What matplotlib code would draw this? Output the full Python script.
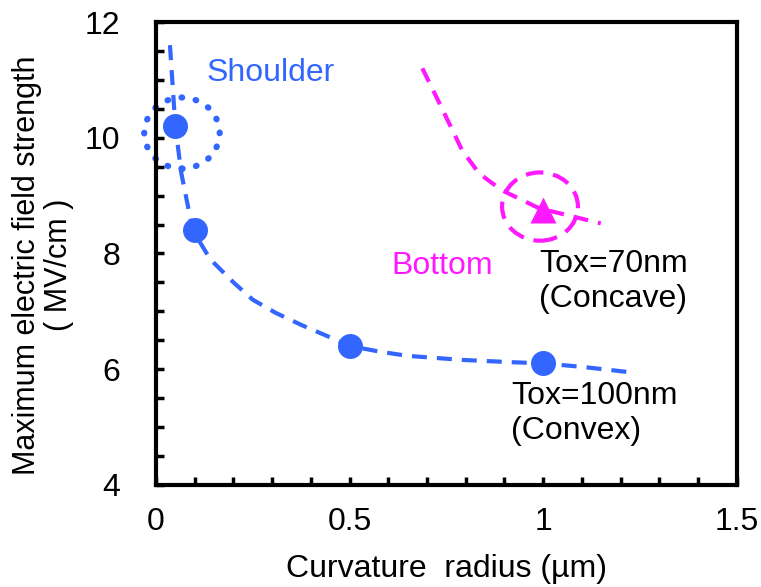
import matplotlib
matplotlib.use('Agg')
import matplotlib.pyplot as plt
from matplotlib.patches import Ellipse
from matplotlib.ticker import MultipleLocator

plt.rcParams['font.family'] = ['Liberation Sans', 'DejaVu Sans']

# measured points
convex_r = [0.05, 0.1, 0.5, 1.0]
convex_e = [10.2, 8.4, 6.4, 6.1]
concave_r = [1.0]
concave_e = [8.75]

# hand-drawn guide curves
convex_fit_r = [0.036, 0.05, 0.065, 0.08, 0.095, 0.14, 0.2, 0.25, 0.31, 0.38,
                0.45, 0.5, 0.58, 0.65, 0.79, 0.92, 1.0, 1.1, 1.22]
convex_fit_e = [11.6, 10.2, 9.4, 8.9, 8.4, 7.9, 7.5, 7.2, 6.97, 6.75,
                6.55, 6.4, 6.3, 6.23, 6.16, 6.12, 6.1, 6.04, 5.95]
concave_fit_r = [0.688, 0.732, 0.791, 0.835, 0.894, 0.99, 1.149]
concave_fit_e = [11.2, 10.6, 9.78, 9.38, 9.09, 8.78, 8.52]

blue = '#3366ff'
pink = '#ff19ff'
fs = 23

fig = plt.figure(figsize=(7.61, 5.87), dpi=100)
ax = fig.add_axes([0.205, 0.174, 0.763, 0.7885])

ax.plot(convex_fit_r, convex_fit_e, color=blue, lw=3, dashes=(3.6, 2.4))
ax.plot(convex_r, convex_e, 'o', color=blue, ms=18, mec='none')
ax.plot(concave_fit_r, concave_fit_e, color=pink, lw=3, dashes=(3.6, 2.4))
ax.plot(concave_r, concave_e, '^', color=pink, ms=19, mec='none')

# circles marking the shoulder and bottom points
ax.add_patch(Ellipse((0.067, 10.08), 0.195, 1.23, fill=False, ec=blue,
                     lw=4.5, linestyle=(0, (0.1, 2.2)), capstyle='round',
                     clip_on=False))
ax.add_patch(Ellipse((0.992, 8.81), 0.196, 1.18, fill=False, ec=pink,
                     lw=3, linestyle=(0, (4.2, 2.4))))

ax.text(0.131, 11.12, 'Shoulder', color=blue, fontsize=fs, va='center')
ax.text(0.608, 7.79, 'Bottom', color=pink, fontsize=fs, va='center')
ax.text(0.99, 7.51, 'Tox=70nm\n(Concave)', fontsize=fs, va='center',
        linespacing=1.2)
ax.text(0.918, 5.23, 'Tox=100nm\n(Convex)', fontsize=fs, va='center',
        linespacing=1.2)

ax.set_xlim(0, 1.5)
ax.set_ylim(4, 12)
ax.set_xticks([0, 0.5, 1, 1.5])
ax.set_xticklabels(['0', '0.5', '1', '1.5'])
ax.set_yticks([4, 6, 8, 10, 12])
ax.xaxis.set_minor_locator(MultipleLocator(0.1))
ax.yaxis.set_minor_locator(MultipleLocator(0.5))
ax.tick_params(which='both', direction='in', width=2.5, length=6,
               labelsize=fs, top=False, right=False)
ax.tick_params(axis='x', pad=16)
ax.tick_params(axis='y', pad=26)
for s in ax.spines.values():
    s.set_linewidth(3)

ax.set_xlabel('Curvature  radius (\u00b5m)', fontsize=fs, labelpad=12)
ax.set_ylabel('Maximum electric field strength\n( MV/cm )', fontsize=22,
              linespacing=1.1)
ax.yaxis.set_label_coords(-0.141, 0.475)

fig.savefig('out.png', dpi=100)
